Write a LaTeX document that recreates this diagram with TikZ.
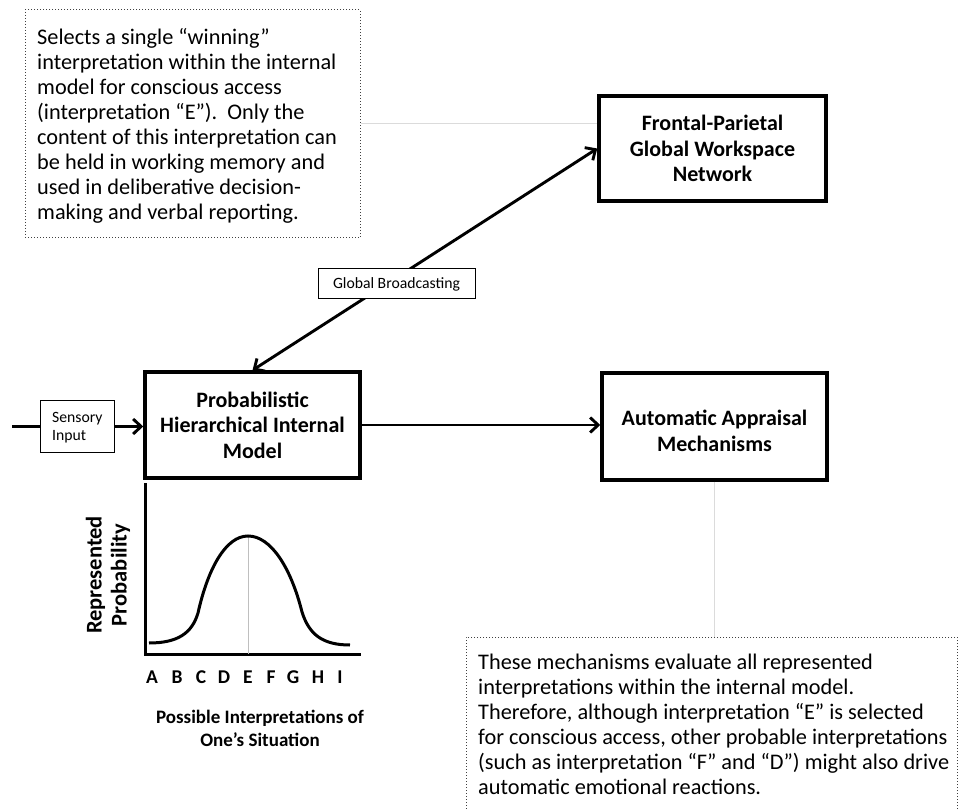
\documentclass[tikz,border=0pt]{standalone}
\usepackage{fontspec}
\setmainfont{Carlito}
\usetikzlibrary{arrows.meta}
\begin{document}
\begin{tikzpicture}[x=1pt,y=-1pt,
  bigbox/.style={draw, line width=3.5pt, inner sep=0pt, font=\bfseries\fontsize{22}{25.5}\selectfont, align=center},
  boxtext/.style={inner sep=0pt, font=\bfseries\fontsize{22}{25.5}\selectfont, align=center},
  smallbox/.style={draw, line width=1pt, fill=white, inner sep=0pt, font=\fontsize{15.7}{18.5}\selectfont},
  conn/.style={line width=2.9pt, -{Straight Barb[length=8pt,width=15pt,line width=2.9pt]}},
  biconn/.style={line width=2.9pt, {Straight Barb[length=8pt,width=15pt,line width=2.9pt]}-{Straight Barb[length=8pt,width=15pt,line width=2.9pt]}},
  note/.style={draw=black!75, dotted, line width=1pt, inner sep=0pt},
  notetext/.style={font=\fontsize{22.3}{25}\selectfont, align=left, anchor=north west, inner sep=0pt},
  guide/.style={draw=black!14, line width=1pt},
  axislbl/.style={font=\bfseries\fontsize{19.5}{20}\selectfont, anchor=base, inner sep=0pt}]
\useasboundingbox (0,0) rectangle (959,810);

% notes
\node[note, minimum width=335pt, minimum height=228pt] (note1) at (192.5,124) {};
\node[notetext] (note1t) at (37,28) {Selects a single “winning”\\interpretation within the internal\\model for conscious access\\(interpretation “E”).\ \ Only the\\content of this interpretation can\\be held in working memory and\\used in deliberative decision-\\making and verbal reporting.};
\node[note, minimum width=491pt, minimum height=200pt] (note2) at (711.5,737) {};
\node[notetext] (note2t) at (478,654) {These mechanisms evaluate all represented\\interpretations within the internal model.\\Therefore, although interpretation “E” is selected\\for conscious access, other probable interpretations\\(such as interpretation “F” and “D”) might also drive\\automatic emotional reactions.};

% main boxes
\node[bigbox, minimum width=227pt, minimum height=105pt] (front) at (712.5,148.5) {Frontal-Parietal\\Global Workspace\\Network};
\node[bigbox, minimum width=215pt, minimum height=106pt] (prob) at (252.5,425) {Probabilistic\\Hierarchical Internal\\Model};
\node[bigbox, minimum width=225pt, minimum height=107pt] (auto) at (714.5,426.5) {};
\node[boxtext] (autot) at (714.5,431) {Automatic Appraisal\\Mechanisms};
\node[smallbox, minimum width=74pt, minimum height=51pt] (sens) at (77,426.5) {};
\node[inner sep=0pt, font=\fontsize{15.7}{18.5}\selectfont, align=left, anchor=north west] (senst) at (52,412) {Sensory\\Input};

% guide lines
\draw[guide] (note1.east) -- (note1.east -| front.west);
\draw[guide] (auto.south) -- (auto.south |- note2.north);

% connectors
\coordinate (inl) at (12,426.5);
\draw[line width=2.9pt] (inl) -- (sens.west);
\draw[conn] (sens.east) -- (sens.east -| prob.west);
\draw[conn] (prob.east) -- (prob.east -| auto.west);
\draw[biconn] (prob.north) -- (front.west);
\node[smallbox, minimum width=157pt, minimum height=30pt] (gb) at (396.5,284) {Global Broadcasting};

% graph
\coordinate (ytop) at (145,483);
\coordinate (orig) at (145,654);
\coordinate (xend) at (361,654);
\draw[line width=3pt] (ytop) -- (orig) -- (xend);
\coordinate (peak) at (248,536);
\draw[black!25, line width=0.6pt] (peak) -- (peak |- orig);
\draw[line width=3pt]
  (149,643) .. controls (178,643) and (192,633) .. (198,613)
  .. controls (208,568) and (226,536) .. (248,536)
  .. controls (271,536) and (291,568) .. (302,612)
  .. controls (309,634) and (322,645) .. (350,645);
\node[axislbl] (la) at (152,683) {A};
\node[axislbl] (lb) at (177,683) {B};
\node[axislbl] (lc) at (201,683) {C};
\node[axislbl] (ld) at (224,683) {D};
\node[axislbl] (le) at (248,683) {E};
\node[axislbl] (lf) at (271,683) {F};
\node[axislbl] (lg) at (293,683) {G};
\node[axislbl] (lh) at (318,683) {H};
\node[axislbl] (li) at (340,683) {I};
\node[font=\bfseries\fontsize{19}{22.5}\selectfont, align=center, inner sep=0pt, anchor=north] (xlbl) at (260,710) {Possible Interpretations of\\One’s Situation};
\node[font=\bfseries\fontsize{22.5}{25}\selectfont, align=center, inner sep=0pt, rotate=90] (ylbl) at (108,575) {Represented\\Probability};
\end{tikzpicture}
\end{document}
